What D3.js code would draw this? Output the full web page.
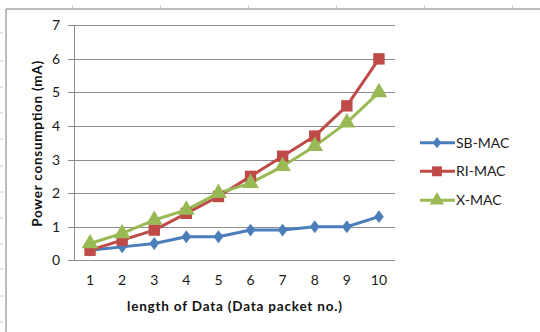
<!DOCTYPE html>
<html><head><meta charset="utf-8">
<script src="https://cdn.jsdelivr.net/npm/d3@7"></script>
<style>body{margin:0;background:#fff}svg{display:block}text{font-family:Lato,"Open Sans",sans-serif}</style>
</head><body>
<script>
const categories = [1,2,3,4,5,6,7,8,9,10];
const sbMac = [0.3,0.4,0.5,0.7,0.7,0.9,0.9,1.0,1.0,1.3];
const riMac = [0.3,0.6,0.9,1.4,1.9,2.5,3.1,3.7,4.6,6.0];
const xMac  = [0.5,0.8,1.2,1.5,2.0,2.3,2.8,3.4,4.1,5.0];
const yTicks = [0,1,2,3,4,5,6,7];
const seriesNames = ["SB-MAC","RI-MAC","X-MAC"];
const xTitle = "length of Data (Data packet no.)";
const yTitle = "Power consumption (mA)";

(function(){
const W=540,H=332;
const svg=d3.select("body").append("svg").attr("width",W).attr("height",H);

const frame="#a6a6a6";
svg.append("line").attr("x1",6).attr("x2",540).attr("y1",9).attr("y2",9).attr("stroke",frame).attr("stroke-width",1.5);
svg.append("line").attr("x1",6).attr("x2",6).attr("y1",9).attr("y2",332).attr("stroke",frame).attr("stroke-width",1.5);
[72.5,160.5,248.5,336.5,424.5,512.5].forEach(x=>svg.append("line").attr("x1",x).attr("x2",x).attr("y1",5).attr("y2",9).attr("stroke","#c8c8c8"));
[33,61,87,113,139,166,192,218,244,269,296,322].forEach(y=>svg.append("line").attr("x1",0).attr("x2",3).attr("y1",y).attr("y2",y).attr("stroke","#c8c8c8"));

const pL=74,pR=395,pT=25.3,pB=260.3;
const x=d3.scaleBand().domain(categories).range([pL,pR]);
const y=d3.scaleLinear().domain([0,7]).range([pB,pT]);

const g=svg.append("g");
g.selectAll(".grid").data(yTicks).join("line")
 .attr("x1",pL-6).attr("x2",pR).attr("y1",d=>Math.round(y(d))+0.5).attr("y2",d=>Math.round(y(d))+0.5)
 .attr("stroke","#8c8c8c").attr("stroke-width",1);
g.append("line").attr("x1",pL+0.5).attr("x2",pL+0.5).attr("y1",y(7)).attr("y2",y(0)).attr("stroke","#8c8c8c");

const fnt="Lato,'Open Sans',sans-serif";
const yAxis=d3.axisLeft(y).tickValues(yTicks).tickSize(0).tickPadding(14).tickFormat(d3.format("d"));
const ya=svg.append("g").attr("transform",`translate(${pL},0)`).call(yAxis);
ya.select(".domain").remove();
ya.selectAll("text").attr("font-size",14).attr("fill","#1a1a1a").style("font-family",fnt);

const xAxis=d3.axisBottom(x).tickSize(0).tickPadding(15);
const xa=svg.append("g").attr("transform",`translate(0,${pB})`).call(xAxis);
xa.select(".domain").remove();
xa.selectAll("text").attr("font-size",14).attr("fill","#1a1a1a").style("font-family",fnt);

svg.append("text").attr("x",(pL+pR)/2).attr("y",310.5).attr("text-anchor","middle")
 .attr("font-size",13.5).attr("font-weight","bold").attr("fill","#111")
 .attr("textLength",215).attr("lengthAdjust","spacing").text(xTitle);
svg.append("text").attr("transform",`translate(42,${(pT+pB)/2+1}) rotate(-90)`).attr("text-anchor","middle")
 .attr("font-size",13.5).attr("font-weight","bold").attr("fill","#111")
 .attr("textLength",166).attr("lengthAdjust","spacing").text(yTitle);

const colors=["#4a7ebb","#be4b48","#98b954"];
const shapes=[d3.symbolDiamond,d3.symbolSquare,d3.symbolTriangle];
const sizes=[48,130,120];
const scl=[" scale(1.3,1)","",""];
const data=[sbMac,riMac,xMac];
const line=d3.line().x((d,i)=>x(categories[i])+x.bandwidth()/2).y(d=>y(d));
const sym=(i,k)=>d3.symbol().type(shapes[i]).size(sizes[i]*(k||1))();

data.forEach((vals,i)=>{
  svg.append("path").attr("d",line(vals)).attr("fill","none").attr("stroke",colors[i]).attr("stroke-width",3).attr("stroke-linejoin","round");
});
data.forEach((vals,i)=>{
  svg.selectAll(null).data(vals).join("path")
   .attr("transform",(d,j)=>`translate(${x(categories[j])+x.bandwidth()/2},${y(d)})${scl[i]}`)
   .attr("d",sym(i)).attr("fill",colors[i]);
});

const ly=[142.7,171.3,200.3];
seriesNames.forEach((n,i)=>{
  const lg=svg.append("g").attr("transform",`translate(0,${ly[i]})`);
  lg.append("line").attr("x1",420).attr("x2",455).attr("y1",0).attr("y2",0).attr("stroke",colors[i]).attr("stroke-width",3);
  lg.append("path").attr("transform",`translate(437,0)${scl[i]}`).attr("d",sym(i,0.75)).attr("fill",colors[i]);
  lg.append("text").attr("x",456).attr("y",0).attr("dy","0.36em").attr("font-size",14).attr("fill","#1a1a1a").style("font-family",fnt).text(n);
});
})();
</script>
</body></html>
